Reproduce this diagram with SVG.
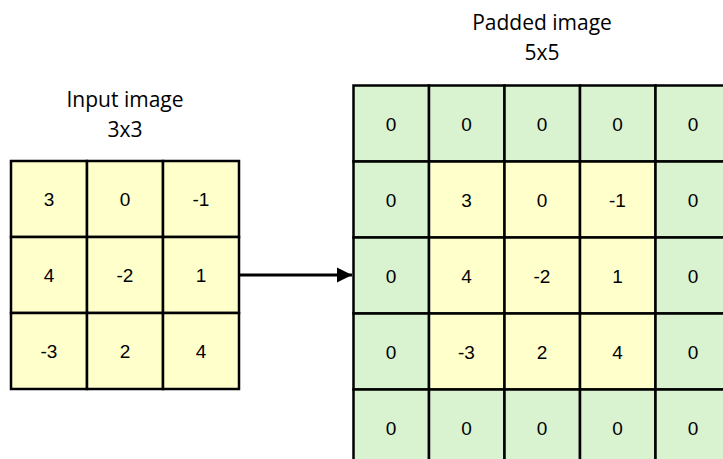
<svg xmlns="http://www.w3.org/2000/svg" width="723" height="459" viewBox="0 0 723 459">
  <style>
    .title { font-family: "Open Sans", "Liberation Sans", sans-serif; font-size: 21px; fill: #000; text-anchor: middle; }
    .val { font-family: "Liberation Sans", Arial, sans-serif; font-size: 19px; fill: #000; text-anchor: middle; }
    .y { fill: #FFFFCC; stroke: #000; stroke-width: 2.5; }
    .g { fill: #D9F2D0; stroke: #000; stroke-width: 2.5; }
    .conn { stroke: #000; stroke-width: 3; fill: none; }
  </style>
  <defs>
    <marker id="head" markerUnits="userSpaceOnUse" markerWidth="16" markerHeight="16" refX="15" refY="8" orient="auto">
      <path d="M0,0.5 L15,8 L0,15.5 Z" fill="#000"/>
    </marker>
  </defs>
  <rect width="723" height="459" fill="#fff"/>

  <!-- 3x3 input grid -->
  <g id="input-image">
    <text class="title" x="125" y="107">Input image</text>
    <text class="title" x="125" y="137">3x3</text>
    <g id="in-r0c0"><rect class="y" x="11" y="161" width="76" height="76"/><text class="val" x="49" y="206">3</text></g>
    <g id="in-r0c1"><rect class="y" x="87" y="161" width="76" height="76"/><text class="val" x="125" y="206">0</text></g>
    <g id="in-r0c2"><rect class="y" x="163" y="161" width="76" height="76"/><text class="val" x="201" y="206">-1</text></g>
    <g id="in-r1c0"><rect class="y" x="11" y="237" width="76" height="76"/><text class="val" x="49" y="282">4</text></g>
    <g id="in-r1c1"><rect class="y" x="87" y="237" width="76" height="76"/><text class="val" x="125" y="282">-2</text></g>
    <g id="in-r1c2"><rect class="y" x="163" y="237" width="76" height="76"/><text class="val" x="201" y="282">1</text></g>
    <g id="in-r2c0"><rect class="y" x="11" y="313" width="76" height="76"/><text class="val" x="49" y="358">-3</text></g>
    <g id="in-r2c1"><rect class="y" x="87" y="313" width="76" height="76"/><text class="val" x="125" y="358">2</text></g>
    <g id="in-r2c2"><rect class="y" x="163" y="313" width="76" height="76"/><text class="val" x="201" y="358">4</text></g>
  </g>

  <!-- 5x5 zero-padded grid -->
  <g id="padded-image">
    <text class="title" x="542" y="30">Padded image</text>
    <text class="title" x="542" y="60">5x5</text>
    <!-- row 0 -->
    <g id="pad-r0c0"><rect class="g" x="353.5" y="85.5" width="75.5" height="76"/><text class="val" x="391" y="130.5">0</text></g>
    <g id="pad-r0c1"><rect class="g" x="429" y="85.5" width="75.5" height="76"/><text class="val" x="466.5" y="130.5">0</text></g>
    <g id="pad-r0c2"><rect class="g" x="504.5" y="85.5" width="75.5" height="76"/><text class="val" x="542" y="130.5">0</text></g>
    <g id="pad-r0c3"><rect class="g" x="580" y="85.5" width="75.5" height="76"/><text class="val" x="617.5" y="130.5">0</text></g>
    <g id="pad-r0c4"><rect class="g" x="655.5" y="85.5" width="75.5" height="76"/><text class="val" x="693" y="130.5">0</text></g>
    <!-- row 1 -->
    <g id="pad-r1c0"><rect class="g" x="353.5" y="161.5" width="75.5" height="76"/><text class="val" x="391" y="206.5">0</text></g>
    <g id="pad-r1c1"><rect class="y" x="429" y="161.5" width="75.5" height="76"/><text class="val" x="466.5" y="206.5">3</text></g>
    <g id="pad-r1c2"><rect class="y" x="504.5" y="161.5" width="75.5" height="76"/><text class="val" x="542" y="206.5">0</text></g>
    <g id="pad-r1c3"><rect class="y" x="580" y="161.5" width="75.5" height="76"/><text class="val" x="617.5" y="206.5">-1</text></g>
    <g id="pad-r1c4"><rect class="g" x="655.5" y="161.5" width="75.5" height="76"/><text class="val" x="693" y="206.5">0</text></g>
    <!-- row 2 -->
    <g id="pad-r2c0"><rect class="g" x="353.5" y="237.5" width="75.5" height="76"/><text class="val" x="391" y="282.5">0</text></g>
    <g id="pad-r2c1"><rect class="y" x="429" y="237.5" width="75.5" height="76"/><text class="val" x="466.5" y="282.5">4</text></g>
    <g id="pad-r2c2"><rect class="y" x="504.5" y="237.5" width="75.5" height="76"/><text class="val" x="542" y="282.5">-2</text></g>
    <g id="pad-r2c3"><rect class="y" x="580" y="237.5" width="75.5" height="76"/><text class="val" x="617.5" y="282.5">1</text></g>
    <g id="pad-r2c4"><rect class="g" x="655.5" y="237.5" width="75.5" height="76"/><text class="val" x="693" y="282.5">0</text></g>
    <!-- row 3 -->
    <g id="pad-r3c0"><rect class="g" x="353.5" y="313.5" width="75.5" height="76"/><text class="val" x="391" y="358.5">0</text></g>
    <g id="pad-r3c1"><rect class="y" x="429" y="313.5" width="75.5" height="76"/><text class="val" x="466.5" y="358.5">-3</text></g>
    <g id="pad-r3c2"><rect class="y" x="504.5" y="313.5" width="75.5" height="76"/><text class="val" x="542" y="358.5">2</text></g>
    <g id="pad-r3c3"><rect class="y" x="580" y="313.5" width="75.5" height="76"/><text class="val" x="617.5" y="358.5">4</text></g>
    <g id="pad-r3c4"><rect class="g" x="655.5" y="313.5" width="75.5" height="76"/><text class="val" x="693" y="358.5">0</text></g>
    <!-- row 4 -->
    <g id="pad-r4c0"><rect class="g" x="353.5" y="389.5" width="75.5" height="76"/><text class="val" x="391" y="434.5">0</text></g>
    <g id="pad-r4c1"><rect class="g" x="429" y="389.5" width="75.5" height="76"/><text class="val" x="466.5" y="434.5">0</text></g>
    <g id="pad-r4c2"><rect class="g" x="504.5" y="389.5" width="75.5" height="76"/><text class="val" x="542" y="434.5">0</text></g>
    <g id="pad-r4c3"><rect class="g" x="580" y="389.5" width="75.5" height="76"/><text class="val" x="617.5" y="434.5">0</text></g>
    <g id="pad-r4c4"><rect class="g" x="655.5" y="389.5" width="75.5" height="76"/><text class="val" x="693" y="434.5">0</text></g>
  </g>

  <!-- connectors -->
  <g id="connectors">
    <line class="conn" x1="239" y1="275" x2="352" y2="275" marker-end="url(#head)"/>
  </g>
</svg>
